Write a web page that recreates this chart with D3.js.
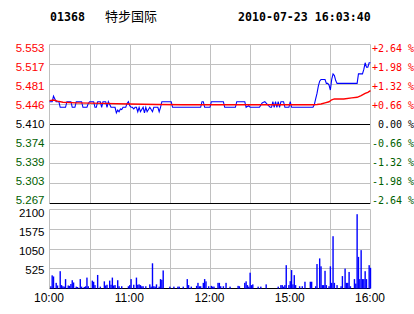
<!DOCTYPE html>
<html><head><meta charset="utf-8">
<script src="https://cdn.jsdelivr.net/npm/d3@7"></script>
<style>body{margin:0;background:#fff}svg{display:block}</style>
</head><body><svg id="c" width="414" height="314"></svg>
<script>
const stockCode = "01368";
const stockName = "特步国际";
const timestamp = "2010-07-23 16:03:40";
const preClose = 5.41;
const priceTickLabels = ["5.553","5.517","5.481","5.446","5.410","5.374","5.339","5.303","5.267"];
const pctTickLabels = ["+2.64 %","+1.98 %","+1.32 %","+0.66 %"," 0.00 %","-0.66 %","-1.32 %","-1.98 %","-2.64 %"];
const pctSteps = [4,3,2,1,0,-1,-2,-3,-4];
const volTickValues = [2100,1575,1050,525];
const volTickLabels = ["2100","1575","1050","525"];
const timeTickMinutes = [0,60,120,180,240];
const timeTickLabels = ["10:00","11:00","12:00","15:00","16:00"];

const priceMinutes = [0,2,3,4,5,7,8,12,13,16,17,19,20,24,25,28,29,30,33,34,35,36,38,39,40,42,43,44,46,49,50,51,52,53,54,55,57,58,59,60,61,62,63,64,65,66,67,68,70,71,72,73,75,77,78,81,82,83,84,91,92,113,114,115,116,120,121,130,131,139,140,146,147,149,150,157,159,161,163,165,166,167,168,169,170,171,172,173,175,176,179,180,181,197,198,199,200,201,202,203,206,207,208,209,210,211,212,213,214,215,230,231,234,235,236,237,238,239,240];
const prices = [5.45,5.45,5.46,5.455,5.45,5.45,5.44,5.44,5.45,5.45,5.44,5.44,5.45,5.45,5.44,5.44,5.447,5.45,5.45,5.44,5.44,5.45,5.45,5.44,5.45,5.45,5.44,5.45,5.44,5.44,5.43,5.435,5.432,5.437,5.436,5.44,5.44,5.447,5.45,5.443,5.44,5.44,5.437,5.44,5.44,5.432,5.44,5.432,5.44,5.43,5.44,5.432,5.44,5.432,5.44,5.44,5.432,5.44,5.45,5.45,5.44,5.44,5.45,5.45,5.44,5.44,5.45,5.45,5.44,5.44,5.45,5.45,5.44,5.443,5.44,5.44,5.448,5.45,5.445,5.44,5.44,5.45,5.44,5.45,5.44,5.45,5.44,5.45,5.45,5.44,5.44,5.45,5.44,5.44,5.445,5.455,5.465,5.478,5.487,5.49,5.49,5.483,5.483,5.48,5.471,5.49,5.50,5.497,5.488,5.483,5.483,5.50,5.50,5.508,5.52,5.512,5.512,5.52,5.52];

const avgMinutes = [0,3,6,10,20,40,60,80,100,140,197,200,203,206,209,211,213,220,226,230,233,236,238,240];
const avgPrices = [5.452,5.453,5.451,5.449,5.448,5.447,5.446,5.445,5.4445,5.4445,5.4445,5.445,5.446,5.448,5.450,5.4535,5.455,5.455,5.457,5.458,5.461,5.465,5.467,5.470];

const volMinutes = [1,2,3,5,6,8,9,10,11,12,14,15,16,17,18,20,21,23,24,26,27,28,29,32,33,34,36,38,41,42,43,45,46,47,48,49,51,52,54,59,60,61,63,65,66,67,68,69,70,72,75,76,77,78,79,80,82,83,84,85,90,93,96,97,100,103,104,106,110,111,112,113,115,116,117,119,121,122,123,126,127,128,130,132,135,141,142,146,147,148,149,150,151,152,156,158,162,171,173,174,175,176,177,179,180,181,182,183,184,187,189,191,195,196,199,200,202,203,204,205,206,207,209,210,211,212,213,215,218,219,221,222,223,224,225,228,229,230,231,232,233,234,235,236,237,239,240];
const volumes = [60,350,320,150,80,460,90,60,50,250,80,70,120,220,160,50,40,250,50,40,60,290,60,210,180,90,360,50,190,80,100,210,100,290,80,90,220,60,60,60,90,250,100,290,100,110,90,60,60,60,110,50,670,60,50,110,50,250,230,480,50,50,50,50,50,250,90,50,70,150,60,60,150,250,190,60,70,50,50,150,150,60,60,150,50,70,60,150,190,90,50,420,90,110,50,50,110,50,90,90,50,90,620,90,195,490,110,355,90,60,60,180,180,180,60,650,800,590,90,90,470,90,60,590,150,1390,150,90,60,330,530,150,150,440,60,250,130,1975,840,250,1020,250,250,460,250,620,550];

const GRID = "#c0c0c0", RED = "#ff0000", GREEN = "#006000", BLUE = "#0000ff";
const svg = d3.select("#c");
const L = 49.5, R = 370.5, PT = 44.5, PB = 203.5, VT = 209.5, VB = 288.5;

const x = d3.scaleLinear().domain([0, 240]).range([L, R]);
const pctUnit = 0.0066;
const yP = d3.scaleLinear().domain([preClose * (1 - 4 * pctUnit), preClose * (1 + 4 * pctUnit)]).range([PB, PT]);
const yV = d3.scaleLinear().domain([0, 2100]).range([VB, VT]);
const labelY = d3.scaleLinear().domain([4, -4]).range([51.5, 204]);
const volLabelY = d3.scaleLinear().domain([2100, 525]).range([217.2, 274.2]);
const colorOf = k => k > 0 ? RED : (k === 0 ? "#000" : GREEN);

// header
svg.append("text").attr("x", 50).attr("y", 21).attr("font-family", "DejaVu Sans Mono").attr("font-weight", "bold")
  .attr("font-size", 11.6).text(stockCode);
svg.append("text").attr("x", 105).attr("y", 20.5).attr("font-family", "Noto Sans CJK SC").attr("font-size", 13).text(stockName);
svg.append("text").attr("x", 238).attr("y", 21).attr("font-family", "DejaVu Sans Mono").attr("font-weight", "bold")
  .attr("font-size", 11.6).text(timestamp);

// vertical grid
const vg = d3.range(30, 240, 30);
[[PT, PB], [VT, VB]].forEach(([t, b]) => {
  svg.append("g").selectAll("line").data(vg).join("line")
    .attr("x1", d => Math.round(x(d)) + 0.5).attr("x2", d => Math.round(x(d)) + 0.5)
    .attr("y1", t).attr("y2", b).attr("stroke", GRID);
});

// price horizontal grid
svg.append("g").selectAll("line").data(pctSteps).join("line")
  .attr("x1", L).attr("x2", R)
  .attr("y1", d => Math.round(yP(preClose * (1 + d * pctUnit)) - 0.5) + 0.5)
  .attr("y2", d => Math.round(yP(preClose * (1 + d * pctUnit)) - 0.5) + 0.5)
  .attr("stroke", d => (d === 0 || d === -4) ? "#000" : GRID);
svg.append("line").attr("x1", L).attr("x2", L).attr("y1", PT).attr("y2", PB).attr("stroke", GRID);
svg.append("line").attr("x1", R).attr("x2", R).attr("y1", PT).attr("y2", PB).attr("stroke", GRID);

// volume grid
svg.append("g").selectAll("line").data([2100, 1575, 1050, 525, 0]).join("line")
  .attr("x1", L).attr("x2", R)
  .attr("y1", d => Math.round(yV(d) - 0.5) + 0.5).attr("y2", d => Math.round(yV(d) - 0.5) + 0.5)
  .attr("stroke", d => d === 0 ? "#000" : GRID);
svg.append("line").attr("x1", L).attr("x2", L).attr("y1", VT).attr("y2", VB).attr("stroke", GRID);
svg.append("line").attr("x1", R).attr("x2", R).attr("y1", VT).attr("y2", VB).attr("stroke", GRID);

// left price labels
svg.append("g").selectAll("text").data(priceTickLabels).join("text")
  .attr("x", 44.5).attr("y", (d, i) => labelY(pctSteps[i])).attr("text-anchor", "end")
  .attr("font-family", "Liberation Sans, Arial").attr("font-size", 11.5)
  .attr("fill", (d, i) => colorOf(pctSteps[i])).text(d => d);
// right pct labels
svg.append("g").selectAll("text").data(pctTickLabels).join("text")
  .attr("x", 372).attr("y", (d, i) => labelY(pctSteps[i]))
  .attr("font-family", "DejaVu Sans Mono").attr("font-size", 10).style("white-space", "pre")
  .attr("fill", (d, i) => colorOf(pctSteps[i])).text(d => d);

// volume labels
svg.append("g").selectAll("text").data(volTickLabels).join("text")
  .attr("x", 44.5).attr("y", (d, i) => volLabelY(volTickValues[i])).attr("text-anchor", "end")
  .attr("font-family", "Liberation Sans, Arial").attr("font-size", 11.5).attr("fill", "#000").text(d => d);

// time axis
const xAxis = d3.axisBottom(x).tickValues(timeTickMinutes).tickSize(0).tickPadding(0)
  .tickFormat((d, i) => timeTickLabels[i]);
const ax = svg.append("g").attr("transform", `translate(-1,${VB})`).call(xAxis);
ax.select(".domain").remove();
ax.selectAll("text").attr("font-family", "Liberation Sans, Arial").attr("font-size", 12).attr("fill", "#000")
  .attr("dy", null).attr("y", 13.5);

// volume bars
svg.append("g").selectAll("rect").data(volMinutes).join("rect")
  .attr("x", (d) => x(d) - 0.7).attr("width", 1.4)
  .attr("y", (d, i) => yV(volumes[i])).attr("height", (d, i) => yV(0) - yV(volumes[i]))
  .attr("fill", BLUE);

// price & average lines
const priceLine = d3.line().x(d => x(d[0])).y(d => yP(d[1]));
svg.append("path").datum(priceMinutes.map((m, i) => [m, prices[i]]))
  .attr("d", priceLine).attr("fill", "none").attr("stroke", BLUE).attr("stroke-width", 1.1);
svg.append("path").datum(avgMinutes.map((m, i) => [m, avgPrices[i]]))
  .attr("d", priceLine).attr("fill", "none").attr("stroke", RED).attr("stroke-width", 1.4);
</script></body></html>
